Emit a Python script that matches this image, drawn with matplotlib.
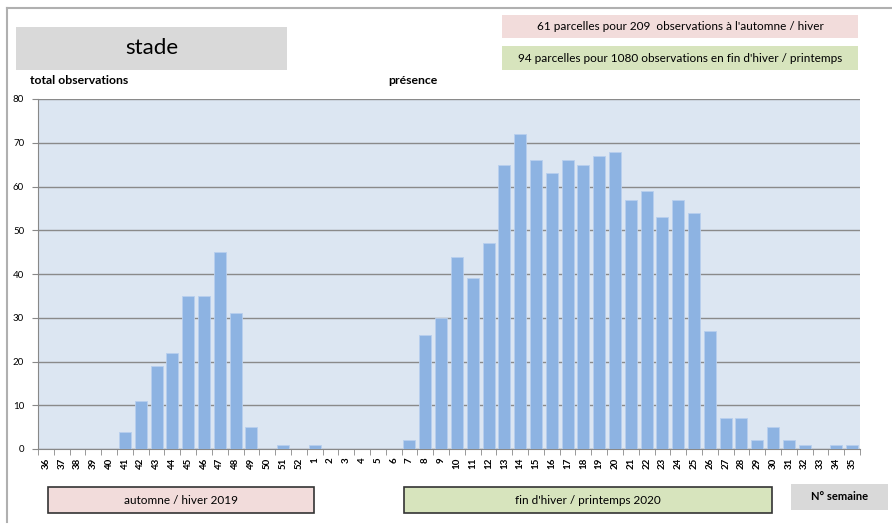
import matplotlib.pyplot as plt
from matplotlib.patches import Rectangle

weeks = [str(w) for w in range(36, 53)] + [str(w) for w in range(1, 36)]
counts = [0, 0, 0, 0, 0, 4, 11, 19, 22, 35, 35, 45, 31, 5, 0, 1, 0,
          1, 0, 0, 0, 0, 0, 2, 26, 30, 44, 39, 47, 65, 72, 66, 63, 66, 65,
          67, 68, 57, 59, 53, 57, 54, 27, 7, 7, 2, 5, 2, 1, 0, 1, 1]
yticks = [0, 10, 20, 30, 40, 50, 60, 70, 80]

plt.rcParams['font.family'] = ['Lato', 'DejaVu Sans']

W, H = 892, 524
fig = plt.figure(figsize=(W / 100, H / 100), dpi=100)


def fx(x):
    return x / W


def fy(y):
    return 1 - y / H


def box(x0, y0, x1, y1, color, text, size=7, edge=None, bold=False):
    r = Rectangle((fx(x0), fy(y1)), fx(x1) - fx(x0), fy(y0) - fy(y1),
                  transform=fig.transFigure, facecolor=color,
                  edgecolor=edge if edge else 'none', linewidth=1.2 if edge else 0)
    fig.patches.append(r)
    fig.text(fx((x0 + x1) / 2), fy((y0 + y1) / 2), text, ha='center', va='center',
             fontsize=size, fontweight='bold' if bold else 'normal')


# outer frame
fig.add_artist(plt.Line2D([fx(7), fx(7)], [fy(8), fy(522)], transform=fig.transFigure,
                          color='#b0b0b0', lw=1.5))
fig.add_artist(plt.Line2D([fx(7), fx(892)], [fy(8), fy(8)], transform=fig.transFigure,
                          color='#b0b0b0', lw=1.5))

box(16, 27, 287, 70, '#d9d9d9', 'stade', size=16)
box(502, 15, 858, 38, '#f2dcdb', "61 parcelles pour 209  observations à l'automne / hiver", size=8.5)
box(502, 46, 858, 70, '#d7e4bd', "94 parcelles pour 1080 observations en fin d'hiver / printemps", size=8.5)
box(48, 487, 314, 513, '#f2dcdb', 'automne / hiver 2019', size=8.5, edge='#333333')
box(404, 487, 772, 513, '#d7e4bd', "fin d'hiver / printemps 2020", size=8.5, edge='#333333')
box(791, 484, 888, 510, '#d9d9d9', 'N° semaine', size=8, bold=True)

fig.text(fx(30), fy(81), 'total observations', fontsize=8.8, fontweight='bold', va='center')
fig.text(fx(388), fy(81), 'présence', fontsize=8.8, fontweight='bold', va='center')

ax = fig.add_axes([fx(38), fy(449), fx(860) - fx(38), fy(99) - fy(449)])
ax.set_facecolor('#dce6f2')
x = list(range(len(weeks)))
ax.bar(x, counts, width=0.76, color='#8db3e2', edgecolor='#b8cfee', linewidth=0.6, zorder=3)
ax.set_xlim(-0.5, len(weeks) - 0.5)
ax.set_ylim(0, 80)
ax.set_yticks(yticks)
ax.yaxis.grid(True, color='#8a8a8a', linewidth=1.0, zorder=0)
ax.set_axisbelow(True)
ax.set_xticks(x)
ax.set_xticklabels(weeks, rotation=90, fontsize=7, fontweight='bold')
ax.set_xticks([i - 0.5 for i in range(len(weeks) + 1)], minor=True)
ax.tick_params(axis='x', which='major', length=0, pad=6)
ax.tick_params(axis='x', which='minor', length=4, color='#888888')
ax.tick_params(axis='y', length=4, color='#888888', labelsize=7, pad=6)
for s in ['top', 'right']:
    ax.spines[s].set_visible(False)
ax.spines['left'].set_color('#888888')
ax.spines['bottom'].set_color('#888888')

fig.savefig('out.png', dpi=100)
